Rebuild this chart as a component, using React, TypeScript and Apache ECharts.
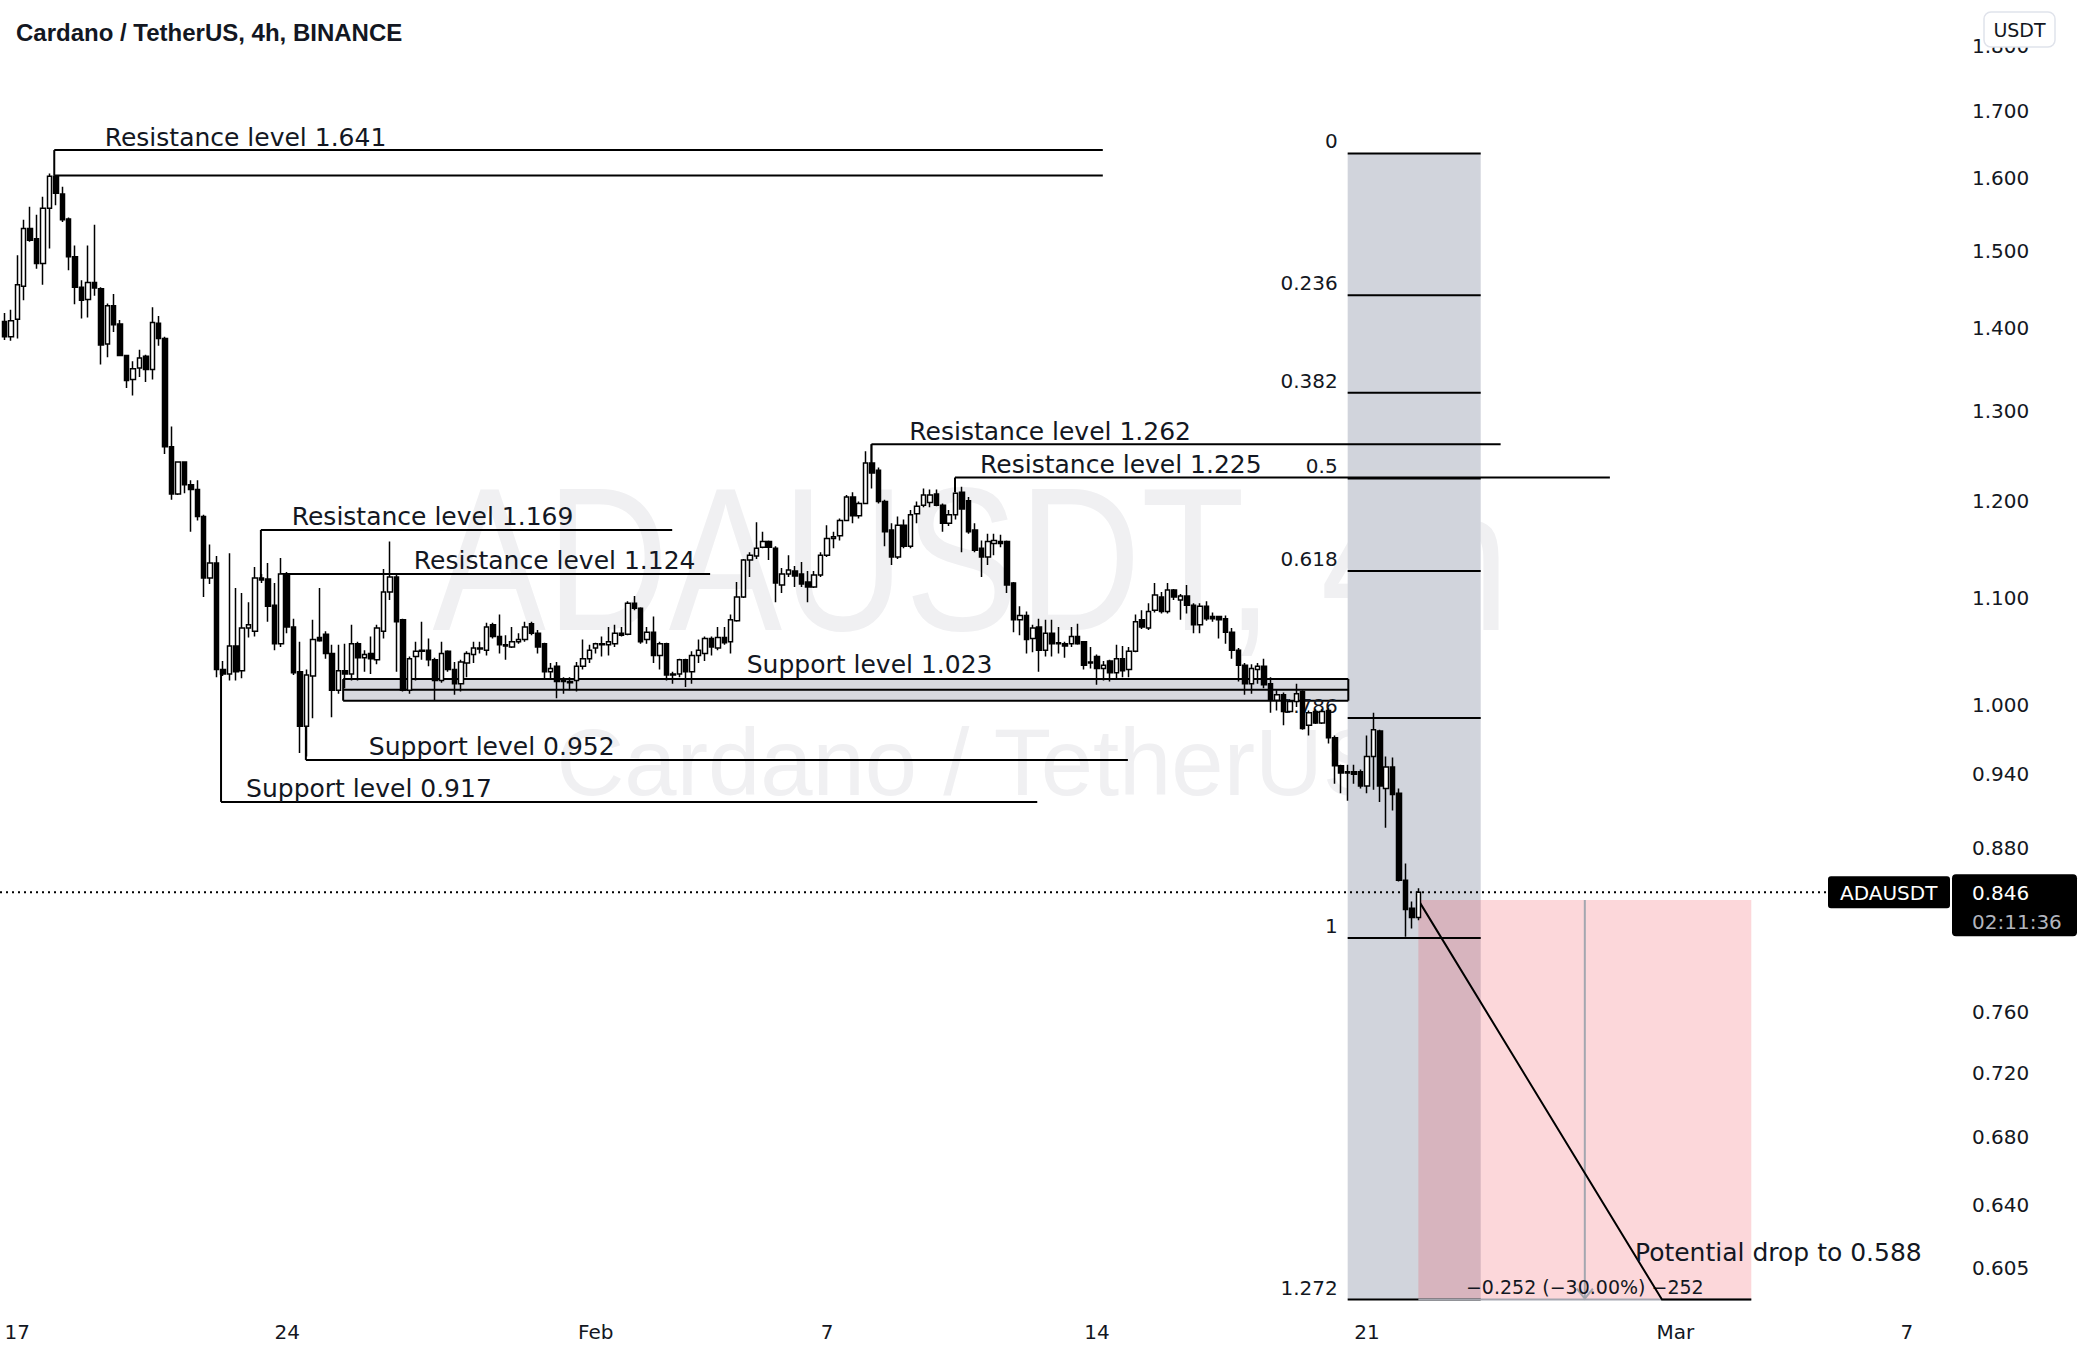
import React, { useEffect, useRef } from 'react';
import * as echarts from 'echarts';

// ---------- data ----------
const firstCandle = '2022-01-16T16:00:00Z';
const candleHours = 4;

// [open, high, low, close] per 4h candle, ADA/USDT
const ohlc: [number, number, number, number][] = [
  [1.408, 1.419, 1.385, 1.389], [1.389, 1.423, 1.384, 1.409], [1.411, 1.494, 1.387, 1.455], [1.453, 1.542, 1.435, 1.530],
  [1.530, 1.560, 1.512, 1.514], [1.516, 1.549, 1.476, 1.483], [1.483, 1.574, 1.455, 1.558], [1.558, 1.607, 1.503, 1.603],
  [1.603, 1.605, 1.562, 1.579], [1.578, 1.588, 1.539, 1.542], [1.543, 1.545, 1.474, 1.492], [1.492, 1.507, 1.430, 1.452],
  [1.452, 1.461, 1.412, 1.435], [1.436, 1.507, 1.413, 1.458], [1.458, 1.535, 1.441, 1.451], [1.450, 1.452, 1.355, 1.379],
  [1.380, 1.431, 1.364, 1.428], [1.428, 1.443, 1.395, 1.404], [1.405, 1.410, 1.365, 1.366], [1.366, 1.367, 1.327, 1.336],
  [1.337, 1.359, 1.318, 1.350], [1.351, 1.373, 1.340, 1.363], [1.365, 1.367, 1.334, 1.349], [1.349, 1.426, 1.337, 1.407],
  [1.406, 1.415, 1.378, 1.387], [1.387, 1.389, 1.251, 1.259], [1.259, 1.282, 1.201, 1.207], [1.207, 1.243, 1.206, 1.242],
  [1.242, 1.243, 1.208, 1.217], [1.217, 1.222, 1.167, 1.212], [1.212, 1.222, 1.179, 1.183], [1.183, 1.185, 1.101, 1.120],
  [1.120, 1.154, 1.114, 1.135], [1.135, 1.142, 1.025, 1.032], [1.032, 1.040, 1.026, 1.028], [1.028, 1.145, 1.022, 1.054],
  [1.054, 1.110, 1.022, 1.030], [1.031, 1.105, 1.024, 1.071], [1.071, 1.096, 1.062, 1.074], [1.068, 1.131, 1.063, 1.120],
  [1.120, 1.124, 1.115, 1.118], [1.119, 1.135, 1.077, 1.092], [1.093, 1.115, 1.050, 1.056], [1.056, 1.140, 1.053, 1.124],
  [1.124, 1.126, 1.066, 1.072], [1.072, 1.080, 1.027, 1.029], [1.030, 1.058, 0.958, 0.981], [0.981, 1.032, 0.955, 1.027],
  [1.026, 1.079, 0.988, 1.060], [1.062, 1.110, 1.058, 1.059], [1.065, 1.068, 1.042, 1.047], [1.047, 1.055, 0.989, 1.013],
  [1.013, 1.055, 1.010, 1.031], [1.031, 1.056, 1.015, 1.028], [1.028, 1.074, 1.022, 1.056], [1.056, 1.058, 1.022, 1.043],
  [1.043, 1.050, 1.030, 1.046], [1.047, 1.063, 1.028, 1.042], [1.041, 1.074, 1.037, 1.071], [1.068, 1.129, 1.061, 1.106],
  [1.106, 1.157, 1.098, 1.121], [1.121, 1.123, 1.030, 1.077], [1.079, 1.080, 1.012, 1.013], [1.013, 1.044, 1.010, 1.042],
  [1.044, 1.058, 1.022, 1.049], [1.049, 1.077, 1.041, 1.050], [1.050, 1.061, 1.035, 1.041], [1.041, 1.043, 1.004, 1.022],
  [1.022, 1.058, 1.020, 1.047], [1.049, 1.050, 1.030, 1.032], [1.032, 1.039, 1.009, 1.019], [1.019, 1.041, 1.012, 1.039],
  [1.038, 1.049, 1.025, 1.047], [1.046, 1.058, 1.038, 1.052], [1.052, 1.058, 1.047, 1.051], [1.050, 1.076, 1.045, 1.072],
  [1.074, 1.076, 1.061, 1.063], [1.063, 1.084, 1.047, 1.055], [1.055, 1.064, 1.041, 1.054], [1.053, 1.072, 1.052, 1.058],
  [1.058, 1.066, 1.056, 1.060], [1.060, 1.077, 1.058, 1.072], [1.075, 1.077, 1.064, 1.066], [1.066, 1.069, 1.047, 1.053],
  [1.056, 1.057, 1.024, 1.030], [1.030, 1.038, 1.024, 1.033], [1.035, 1.039, 1.006, 1.021], [1.023, 1.025, 1.010, 1.021],
  [1.021, 1.025, 1.013, 1.020], [1.022, 1.039, 1.012, 1.035], [1.035, 1.060, 1.032, 1.042], [1.042, 1.055, 1.038, 1.050],
  [1.052, 1.057, 1.047, 1.056], [1.056, 1.063, 1.044, 1.055], [1.055, 1.072, 1.045, 1.058], [1.056, 1.074, 1.053, 1.066],
  [1.066, 1.072, 1.063, 1.064], [1.065, 1.097, 1.064, 1.095], [1.095, 1.102, 1.088, 1.090], [1.090, 1.091, 1.056, 1.058],
  [1.060, 1.072, 1.056, 1.067], [1.067, 1.082, 1.038, 1.045], [1.045, 1.058, 1.032, 1.056], [1.056, 1.057, 1.022, 1.027],
  [1.028, 1.030, 1.019, 1.027], [1.028, 1.042, 1.025, 1.041], [1.041, 1.042, 1.016, 1.030], [1.030, 1.049, 1.019, 1.045],
  [1.045, 1.060, 1.038, 1.050], [1.047, 1.063, 1.040, 1.061], [1.061, 1.063, 1.045, 1.053], [1.052, 1.072, 1.050, 1.062],
  [1.062, 1.072, 1.055, 1.057], [1.058, 1.084, 1.047, 1.079], [1.078, 1.116, 1.077, 1.101], [1.101, 1.139, 1.100, 1.138],
  [1.138, 1.146, 1.121, 1.143], [1.142, 1.177, 1.139, 1.150], [1.151, 1.167, 1.150, 1.157], [1.157, 1.158, 1.138, 1.151],
  [1.150, 1.152, 1.096, 1.115], [1.113, 1.130, 1.105, 1.124], [1.124, 1.143, 1.121, 1.128], [1.127, 1.132, 1.111, 1.122],
  [1.124, 1.136, 1.111, 1.114], [1.116, 1.127, 1.096, 1.111], [1.111, 1.127, 1.110, 1.123], [1.123, 1.146, 1.121, 1.143],
  [1.143, 1.174, 1.141, 1.160], [1.160, 1.167, 1.150, 1.162], [1.163, 1.181, 1.158, 1.179], [1.179, 1.206, 1.178, 1.204],
  [1.204, 1.209, 1.176, 1.184], [1.184, 1.199, 1.181, 1.197], [1.197, 1.254, 1.196, 1.241], [1.241, 1.262, 1.213, 1.230],
  [1.233, 1.236, 1.197, 1.199], [1.199, 1.201, 1.152, 1.167], [1.169, 1.176, 1.133, 1.141], [1.141, 1.183, 1.139, 1.174],
  [1.174, 1.180, 1.150, 1.152], [1.152, 1.190, 1.150, 1.185], [1.186, 1.199, 1.176, 1.194], [1.195, 1.213, 1.193, 1.206],
  [1.198, 1.212, 1.193, 1.206], [1.207, 1.212, 1.194, 1.195], [1.195, 1.197, 1.167, 1.176], [1.176, 1.190, 1.173, 1.185],
  [1.185, 1.209, 1.180, 1.208], [1.209, 1.215, 1.146, 1.191], [1.200, 1.204, 1.165, 1.167], [1.169, 1.176, 1.146, 1.148],
  [1.150, 1.158, 1.121, 1.141], [1.141, 1.165, 1.133, 1.157], [1.155, 1.165, 1.143, 1.158], [1.157, 1.164, 1.151, 1.155],
  [1.157, 1.158, 1.105, 1.113], [1.115, 1.116, 1.067, 1.079], [1.079, 1.092, 1.064, 1.083], [1.083, 1.087, 1.047, 1.060],
  [1.061, 1.074, 1.048, 1.071], [1.072, 1.080, 1.030, 1.050], [1.050, 1.079, 1.044, 1.066], [1.066, 1.079, 1.044, 1.056],
  [1.057, 1.072, 1.047, 1.056], [1.056, 1.058, 1.043, 1.054], [1.056, 1.072, 1.053, 1.063], [1.063, 1.075, 1.055, 1.056],
  [1.058, 1.058, 1.032, 1.036], [1.039, 1.053, 1.033, 1.038], [1.044, 1.046, 1.018, 1.033], [1.033, 1.040, 1.022, 1.036],
  [1.040, 1.041, 1.021, 1.029], [1.029, 1.055, 1.024, 1.042], [1.042, 1.054, 1.025, 1.031], [1.032, 1.053, 1.025, 1.049],
  [1.049, 1.084, 1.048, 1.077], [1.079, 1.088, 1.070, 1.072], [1.071, 1.095, 1.069, 1.087], [1.088, 1.115, 1.086, 1.103],
  [1.101, 1.106, 1.085, 1.087], [1.087, 1.115, 1.085, 1.108], [1.108, 1.109, 1.098, 1.101], [1.098, 1.104, 1.079, 1.102],
  [1.102, 1.113, 1.085, 1.093], [1.093, 1.095, 1.066, 1.074], [1.074, 1.095, 1.066, 1.092], [1.092, 1.097, 1.078, 1.080],
  [1.082, 1.086, 1.077, 1.080], [1.082, 1.082, 1.061, 1.079], [1.080, 1.083, 1.056, 1.067], [1.067, 1.071, 1.042, 1.050],
  [1.050, 1.052, 1.021, 1.036], [1.036, 1.038, 1.009, 1.019], [1.019, 1.037, 1.010, 1.033], [1.032, 1.038, 1.019, 1.035],
  [1.035, 1.042, 1.015, 1.018], [1.019, 1.025, 0.993, 1.004], [1.004, 1.013, 0.995, 1.009], [1.009, 1.011, 0.982, 0.994],
  [0.994, 1.005, 0.993, 1.003], [1.003, 1.019, 0.998, 1.010], [1.012, 1.013, 0.978, 0.979], [0.982, 0.995, 0.973, 0.993],
  [0.994, 0.996, 0.983, 0.984], [0.984, 0.996, 0.983, 0.994], [0.995, 0.997, 0.966, 0.971], [0.971, 0.973, 0.932, 0.947],
  [0.947, 0.948, 0.924, 0.941], [0.942, 0.948, 0.918, 0.941], [0.942, 0.948, 0.932, 0.940], [0.942, 0.944, 0.928, 0.930],
  [0.930, 0.973, 0.924, 0.955], [0.955, 0.993, 0.927, 0.978], [0.977, 0.978, 0.917, 0.930], [0.928, 0.955, 0.896, 0.946],
  [0.946, 0.954, 0.910, 0.923], [0.924, 0.928, 0.854, 0.855], [0.855, 0.868, 0.813, 0.833], [0.834, 0.839, 0.819, 0.827],
  [0.827, 0.849, 0.825, 0.846],
];

const dateTicks = ['2022-01-17', '2022-01-24', '2022-02-01', '2022-02-07', '2022-02-14', '2022-02-21', '2022-03-01', '2022-03-07'];
const dateTickLabels = ['17', '24', 'Feb', '7', '14', '21', 'Mar', '7'];
const priceTicks = [1.8, 1.7, 1.6, 1.5, 1.4, 1.3, 1.2, 1.1, 1.0, 0.94, 0.88, 0.76, 0.72, 0.68, 0.64, 0.605];

const symbol = 'ADAUSDT';
const lastPrice = 0.846;
const countdown = '02:11:36';
const title = 'Cardano / TetherUS, 4h, BINANCE';
const watermarkMain = 'ADAUSDT, 4h';
const watermarkSub = 'Cardano / TetherUS';

// horizontal level drawings, anchored in candle index / price
const levelLines = [
  { text: 'Resistance level 1.641', price: 1.641, start: 7.75, end: 170.9, textAt: 15.6, link: 1.604 },
  { text: '', price: 1.604, start: 7.75, end: 170.9, textAt: 0, link: null },
  { text: 'Resistance level 1.169', price: 1.169, start: 39.9, end: 103.9, textAt: 44.7, link: 1.118 },
  { text: 'Resistance level 1.124', price: 1.124, start: 42.9, end: 109.8, textAt: 63.7, link: null },
  { text: 'Resistance level 1.262', price: 1.262, start: 134.9, end: 232.8, textAt: 140.8, link: 1.241 },
  { text: 'Resistance level 1.225', price: 1.225, start: 147.9, end: 249.8, textAt: 151.8, link: 1.209 },
  { text: 'Support level 0.952', price: 0.952, start: 46.9, end: 174.8, textAt: 56.7, link: 0.981 },
  { text: 'Support level 0.917', price: 0.917, start: 33.7, end: 160.7, textAt: 37.6, link: 1.030 },
];
const supportZone = { text: 'Support level 1.023', prices: [1.0233, 1.0136, 1.0037], start: 52.7, end: 209.1, textAt: 115.5 };
const fib = { start: 209.0, end: 229.7, p0: 1.636, p1: 0.8121 };
const fibLevels = [0, 0.236, 0.382, 0.5, 0.618, 0.786, 1, 1.272];
const fibLabels = ['0', '0.236', '0.382', '0.5', '0.618', '0.786', '1', '1.272'];
const priceRange = { start: 220, end: 271.8, from: 0.840, to: 0.588 };
const dropPath: [number, number][] = [[220, 0.840], [257.9, 0.588], [271.8, 0.588]];
const dropText = { text: 'Potential drop to 0.588', at: 253.7, price: 0.588 };

// ---------- layout / style ----------
const W = 2088;
const H = 1360;
const GRID = { left: 0, top: 0, right: 138, bottom: 48 };
const X_MIN = -0.692;
const X_MAX = 302.72;
const Y_MIN = -0.5421;
const Y_MAX = 0.6293;
const INK = '#131722';
const FONT = '"DejaVu Sans", sans-serif';
const NOTE_FONT = `25px ${FONT}`;

const toIndex = (iso: string) => (Date.parse(iso) - Date.parse(firstCandle)) / (candleHours * 3600e3);
const tickIdx = dateTicks.map(toIndex);
const minus = (s: string) => s.replace(/-/g, '\u2212');

function txt(x: number, y: number, text: string, extra: any = {}) {
  const align = extra.align || 'left';
  const v = extra.verticalAlign || 'middle';
  return {
    type: 'text', x, y, silent: true,
    style: {
      text, fill: extra.fill || INK, font: extra.font || NOTE_FONT,
      align, verticalAlign: v, textAlign: align, textVerticalAlign: v,
    },
  };
}
function seg(x1: number, y1: number, x2: number, y2: number, stroke = '#000', lineWidth = 2, lineDash?: number[]) {
  return { type: 'line', silent: true, shape: { x1, y1, x2, y2 }, style: { stroke, lineWidth, lineDash } };
}
function box(x: number, y: number, w: number, h: number, fill: string) {
  return { type: 'rect', silent: true, shape: { x, y, width: w, height: h }, style: { fill } };
}

function renderUnder(params: any, api: any) {
  const cs = params.coordSys;
  const pt = (i: number, p: number) => api.coord([i, Math.log(p)]) as number[];
  const els: any[] = [];
  const fibPrice = (r: number) => fib.p0 - r * (fib.p0 - fib.p1);

  // fib background
  const [fx0, fTop] = pt(fib.start, fibPrice(0));
  const [fx1, fBot] = pt(fib.end, fibPrice(fibLevels[fibLevels.length - 1]));
  els.push(box(fx0, fTop, fx1 - fx0, fBot - fTop, '#d1d4dc'));

  // price range background
  const [rx0, rTop] = pt(priceRange.start, priceRange.from);
  const [rx1, rBot] = pt(priceRange.end, priceRange.to);
  els.push(box(rx0, rTop, rx1 - rx0, rBot - rTop, 'rgba(242,54,69,0.2)'));

  // support zone
  const zx0 = pt(supportZone.start, 1)[0];
  const zx1 = pt(supportZone.end, 1)[0];
  const zys = supportZone.prices.map((p) => pt(0, p)[1]);
  els.push(box(zx0, zys[0], zx1 - zx0, zys[zys.length - 1] - zys[0], 'rgba(150,155,170,0.38)'));
  zys.forEach((y) => els.push(seg(zx0, y, zx1, y)));
  els.push(seg(zx0, zys[0], zx0, zys[zys.length - 1]));
  els.push(seg(zx1, zys[0], zx1, zys[zys.length - 1]));
  els.push(txt(pt(supportZone.textAt, 1)[0], zys[0] - 15, supportZone.text));

  // level lines
  levelLines.forEach((l) => {
    const [x0, y] = pt(l.start, l.price);
    const x1 = pt(l.end, l.price)[0];
    els.push(seg(x0, y, x1, y));
    if (l.link != null) els.push(seg(x0, y, x0, pt(l.start, l.link)[1]));
    if (l.text) els.push(txt(pt(l.textAt, l.price)[0], y - 13, l.text));
  });

  // fib lines + labels
  fibLevels.forEach((r, k) => {
    const y = pt(fib.start, fibPrice(r))[1];
    els.push(seg(fx0, y, fx1, y));
    els.push(txt(fx0 - 10, y - 12, fibLabels[k], { align: 'right', font: `20px ${FONT}` }));
  });

  // price range: bottom border, measuring line, arrow, label
  const cx = (rx0 + rx1) / 2;
  els.push(seg(rx0, rBot, rx1, rBot, '#a3a6af', 2));
  els.push(seg(cx, rTop, cx, rBot, '#a3a6af', 2));
  els.push({ type: 'polyline', silent: true, shape: { points: [[cx - 8, rBot - 11], [cx, rBot - 1], [cx + 8, rBot - 11]] }, style: { stroke: '#a3a6af', lineWidth: 2, fill: 'none' } });
  const diff = priceRange.to - priceRange.from;
  const pct = (diff / priceRange.from) * 100;
  const label = `${minus(diff.toFixed(3))} (${minus(pct.toFixed(2))}%) ${minus(String(Math.round(diff * 1000)))}`;
  els.push(txt(cx, rBot - 13, label, { align: 'center', font: `19px ${FONT}` }));

  // drop path + text
  els.push({ type: 'polyline', silent: true, shape: { points: dropPath.map(([i, p]) => pt(i, p)) }, style: { stroke: '#000', lineWidth: 2, fill: 'none' } });
  const [dx, dy] = pt(dropText.at, dropText.price);
  els.push(txt(dx, dy - 47, dropText.text));

  // current price dotted line
  const ly = pt(0, lastPrice)[1];
  els.push(seg(cs.x, ly, cs.x + cs.width, ly, '#000', 2, [2, 4]));

  return { type: 'group', children: els };
}

function renderOver(params: any, api: any) {
  const cs = params.coordSys;
  const y = api.coord([0, Math.log(lastPrice)])[1];
  const right = cs.x + cs.width;
  const els: any[] = [];
  els.push({ type: 'rect', silent: true, shape: { x: right - 122, y: y - 16, width: 122, height: 32, r: 3 }, style: { fill: '#000' } });
  els.push(txt(right - 110, y + 1, symbol, { fill: '#ffffff', font: `20px ${FONT}` }));
  els.push({ type: 'rect', silent: true, shape: { x: right + 2, y: y - 18, width: 125, height: 62, r: 4 }, style: { fill: '#000' } });
  els.push(txt(right + 22, y + 1, lastPrice.toFixed(3), { fill: '#ffffff', font: `20px ${FONT}` }));
  els.push(txt(right + 22, y + 30, countdown, { fill: '#b2b5be', font: `20px ${FONT}` }));
  return { type: 'group', children: els };
}

export default function App() {
  const ref = useRef<HTMLDivElement>(null);
  useEffect(() => {
    const el = ref.current;
    if (!el) return;
    const chart = echarts.init(el, null, { renderer: 'svg', width: W, height: H });
    const option: any = {
      animation: false,
      backgroundColor: '#ffffff',
      grid: { ...GRID, containLabel: false },
      xAxis: {
        type: 'value', min: X_MIN, max: X_MAX,
        axisLine: { show: false }, axisTick: { show: false }, splitLine: { show: false },
        axisLabel: {
          customValues: tickIdx,
          formatter: (v: number) => {
            let best = 0;
            tickIdx.forEach((t, k) => { if (Math.abs(t - v) < Math.abs(tickIdx[best] - v)) best = k; });
            return dateTickLabels[best];
          },
          color: INK, fontFamily: 'DejaVu Sans', fontSize: 20, margin: 10,
        },
      },
      yAxis: {
        type: 'value', position: 'right', min: Y_MIN, max: Y_MAX,
        axisLine: { show: false }, axisTick: { show: false }, splitLine: { show: false },
        axisLabel: {
          customValues: priceTicks.map((p) => Math.log(p)),
          formatter: (v: number) => Math.exp(v).toFixed(3),
          color: INK, fontFamily: 'DejaVu Sans', fontSize: 20, margin: 22, align: 'left',
        },
      },
      series: [
        { type: 'custom', name: 'drawings', z: 1, silent: true, clip: false, data: [[0, 0]], renderItem: renderUnder },
        {
          type: 'candlestick', name: symbol, z: 3, silent: true, barWidth: 5,
          encode: { x: 0, y: [1, 2, 3, 4] },
          data: ohlc.map(([o, h, l, c], i) => [i, Math.log(o), Math.log(c), Math.log(l), Math.log(h)]),
          itemStyle: { color: '#ffffff', color0: '#000000', borderColor: '#000000', borderColor0: '#000000', borderWidth: 1.5 },
        },
        { type: 'custom', name: 'tags', z: 5, silent: true, clip: false, data: [[0, 0]], renderItem: renderOver },
      ],
      graphic: [
        { type: 'text', z: 0, x: 971, y: 559, scaleY: 1.2, silent: true, style: { text: watermarkMain, fill: '#f0f0f2', font: `170px "Liberation Sans"`, align: 'center', verticalAlign: 'middle', textAlign: 'center', textVerticalAlign: 'middle' } },
        { type: 'text', z: 0, x: 971, y: 762, silent: true, style: { text: watermarkSub, fill: '#f0f0f2', font: `94px "Liberation Sans"`, align: 'center', verticalAlign: 'middle', textAlign: 'center', textVerticalAlign: 'middle' } },
        { type: 'text', z: 10, x: 16, y: 32, silent: true, style: { text: title, fill: INK, font: `bold 24px "Liberation Sans"`, align: 'left', verticalAlign: 'middle', textAlign: 'left', textVerticalAlign: 'middle' } },
        { type: 'rect', z: 10, x: 1984, y: 12, silent: true, shape: { width: 71, height: 35, r: 7 }, style: { fill: '#ffffff', stroke: '#e0e3eb', lineWidth: 1.5 } },
        { type: 'text', z: 11, x: 2019.5, y: 30, silent: true, style: { text: 'USDT', fill: INK, font: `19px ${FONT}`, align: 'center', verticalAlign: 'middle', textAlign: 'center', textVerticalAlign: 'middle' } },
      ],
    };
    chart.setOption(option);
    return () => chart.dispose();
  }, []);
  return <div ref={ref} style={{ position: 'fixed', left: 0, top: 0, width: W, height: H, background: '#fff' }} />;
}
